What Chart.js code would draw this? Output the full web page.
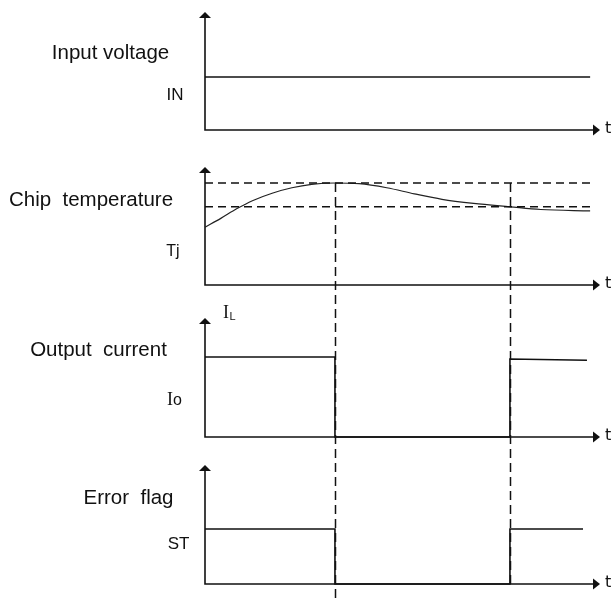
<!DOCTYPE html>
<html><head><meta charset="utf-8">
<script src="https://cdn.jsdelivr.net/npm/chart.js@4.4.1/dist/chart.umd.min.js"></script>
<style>html,body{margin:0;padding:0;background:#fff;}#wrap{position:relative;width:616px;height:602px;}</style>
</head><body><div id="wrap"><canvas id="c" width="616" height="602"></canvas></div>
<script>
// ---------------- data ----------------
const panelTitles = ['Input voltage', 'Chip  temperature', 'Output  current', 'Error  flag'];
const signalNames = ['IN', 'Tj', 'Io', 'ST'];
const axisLabel = 't';
const eventTimes = [3.29, 7.72];           // thermal shutdown, recovery
const inTimes  = [0, 9.75];
const inValues = [1, 1];
const tjTimes  = [0, 0.4, 0.8, 1.2, 1.7, 2.2, 2.7, 3.29, 3.9, 4.6, 5.3, 6.0, 6.8, 7.72, 8.5, 9.75];
const tjValues = [85, 98, 112, 124, 135, 143, 148, 150, 149, 143, 134, 126, 120, 115, 111, 109];
const tjTrip = 150, tjReset = 115;
const thresholdTimes = [0, 9.75];
const ioTimes  = [0, 3.29, 3.29, 7.72, 7.72, 9.67];
const ioValues = [1, 1, 0, 0, 0.975, 0.96];
const stTimes  = [0, 3.29, 3.29, 7.72, 7.72, 9.57];
const stValues = [1, 1, 0, 0, 1, 1];

// ---------------- layout ----------------
const W = 616, H = 602;
const X0 = 205, XTIP = 600, T_AXIS = 10;
const pxPerT = (XTIP - X0) / T_AXIS;
const panels = [
  {key: 'yIn', zeroPx: 130, refVal: 1,   refPx: 77,  tipPx: 12},
  {key: 'yTj', zeroPx: 285, refVal: 150, refPx: 183, tipPx: 167},
  {key: 'yIo', zeroPx: 437, refVal: 1,   refPx: 357, tipPx: 318},
  {key: 'yST', zeroPx: 584, refVal: 1,   refPx: 529, tipPx: 465}
];
const INK = '#111';
const SANS = '"Liberation Sans", Arial, sans-serif';
const titleFont = '20.5px ' + SANS;
const titlePos = [[110.5, 53], [91, 200], [98.5, 350], [128.5, 498]];
const namePos  = [[175, 95], [173, 252], [175, 400], [178.5, 544]];
const eventBottomPx = [602, 584];

function pts(xs, ys) { return xs.map((x, i) => ({x: x, y: ys[i]})); }

const scales = {
  x: {type: 'linear', display: false, min: -X0 / pxPerT, max: (W - X0) / pxPerT}
};
panels.forEach(p => {
  const ppu = (p.zeroPx - p.refPx) / p.refVal;
  scales[p.key] = {type: 'linear', display: false, position: 'left',
    min: -(H - p.zeroPx) / ppu, max: p.zeroPx / ppu};
});

const solid = {borderColor: INK, borderWidth: 1.6, pointRadius: 0, showLine: true, fill: false, tension: 0};
const datasets = [
  Object.assign({}, solid, {label: 'IN', yAxisID: 'yIn', data: pts(inTimes, inValues)}),
  Object.assign({}, solid, {label: 'Tj trip', yAxisID: 'yTj', borderDash: [8, 5], borderWidth: 1.5,
    data: pts(thresholdTimes, [tjTrip, tjTrip])}),
  Object.assign({}, solid, {label: 'Tj reset', yAxisID: 'yTj', borderDash: [8, 5], borderWidth: 1.5,
    data: pts(thresholdTimes, [tjReset, tjReset])}),
  Object.assign({}, solid, {label: 'Tj', yAxisID: 'yTj', borderWidth: 1.2, borderColor: '#222',
    cubicInterpolationMode: 'monotone', data: pts(tjTimes, tjValues)}),
  Object.assign({}, solid, {label: 'Io', yAxisID: 'yIo', data: pts(ioTimes, ioValues)}),
  Object.assign({}, solid, {label: 'ST', yAxisID: 'yST', data: pts(stTimes, stValues)})
];

const decor = {
  id: 'decor',
  beforeDatasetsDraw(chart) {
    const ctx = chart.ctx, xs = chart.scales.x;
    const x0 = xs.getPixelForValue(0), xe = xs.getPixelForValue(T_AXIS);
    ctx.save();
    ctx.strokeStyle = INK; ctx.fillStyle = INK; ctx.lineWidth = 1.6;
    panels.forEach(p => {
      const ys = chart.scales[p.key];
      const y0 = ys.getPixelForValue(0);
      ctx.beginPath();
      ctx.moveTo(x0, p.tipPx + 4); ctx.lineTo(x0, y0); ctx.lineTo(xe - 4, y0);
      ctx.stroke();
      ctx.beginPath();
      ctx.moveTo(x0, p.tipPx); ctx.lineTo(x0 - 6, p.tipPx + 6); ctx.lineTo(x0 + 6, p.tipPx + 6); ctx.closePath(); ctx.fill();
      ctx.beginPath();
      ctx.moveTo(xe, y0); ctx.lineTo(xe - 7, y0 - 5.5); ctx.lineTo(xe - 7, y0 + 5.5); ctx.closePath(); ctx.fill();
      ctx.font = '16px "DejaVu Sans", sans-serif';
      ctx.textAlign = 'left'; ctx.textBaseline = 'middle';
      ctx.fillText(axisLabel, xe + 5, y0 - 1);
    });
    ctx.restore();
  },
  afterDatasetsDraw(chart) {
    const ctx = chart.ctx, xs = chart.scales.x, yTj = chart.scales.yTj;
    ctx.save();
    ctx.strokeStyle = INK; ctx.lineWidth = 1.5; ctx.setLineDash([9, 5]);
    eventTimes.forEach((t, i) => {
      const x = Math.round(xs.getPixelForValue(t)) + 0.5;
      ctx.beginPath();
      ctx.moveTo(x, yTj.getPixelForValue(tjTrip));
      ctx.lineTo(x, eventBottomPx[i]);
      ctx.stroke();
    });
    ctx.setLineDash([]);
    ctx.fillStyle = INK;
    ctx.textAlign = 'center'; ctx.textBaseline = 'middle';
    ctx.font = titleFont;
    panelTitles.forEach((t, i) => ctx.fillText(t, titlePos[i][0], titlePos[i][1]));
    // signal names
    ctx.font = '17px ' + SANS;
    ctx.fillText(signalNames[0], namePos[0][0], namePos[0][1]);
    ctx.font = '16px ' + SANS;
    ctx.fillText(signalNames[1], namePos[1][0], namePos[1][1]);
    // Io : serif I + sans o
    ctx.textAlign = 'left';
    ctx.font = '18px "Liberation Serif", serif';
    const iw = ctx.measureText('I').width;
    ctx.fillText(signalNames[2].charAt(0), namePos[2][0] - 8, namePos[2][1]);
    ctx.font = '16px ' + SANS;
    ctx.fillText(signalNames[2].slice(1), namePos[2][0] - 8 + iw, namePos[2][1] + 1);
    ctx.textAlign = 'center';
    ctx.font = '17px ' + SANS;
    ctx.fillText(signalNames[3], namePos[3][0], namePos[3][1]);
    // I_L label next to output-current axis
    ctx.textAlign = 'left';
    ctx.font = '18px "Liberation Serif", serif';
    ctx.fillText('I', 223, 313);
    ctx.font = '11px ' + SANS;
    ctx.fillText('L', 229.5, 317);
    ctx.restore();
  }
};

new Chart(document.getElementById('c'), {
  type: 'scatter',
  data: {datasets: datasets},
  options: {
    responsive: false, animation: false, devicePixelRatio: 1,
    layout: {padding: 0},
    plugins: {legend: {display: false}, tooltip: {enabled: false}, title: {display: false}},
    events: [],
    scales: scales
  },
  plugins: [decor]
});
</script></body></html>
